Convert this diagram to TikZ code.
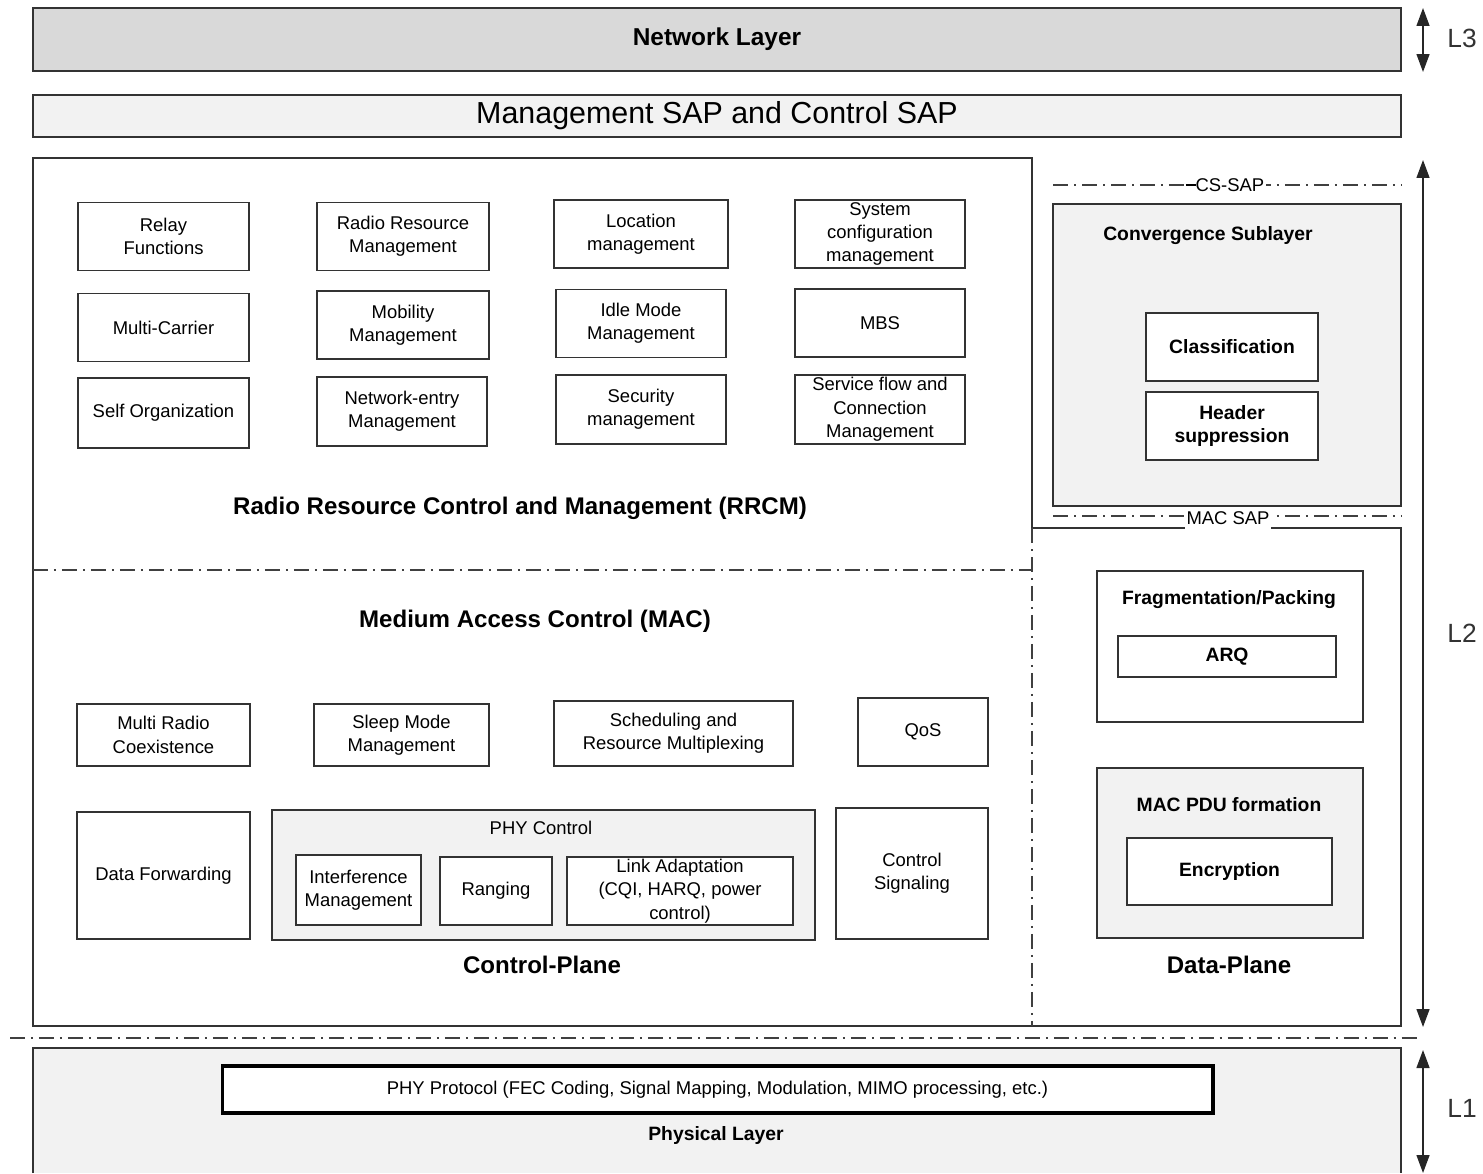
\documentclass[tikz,border=0pt]{standalone}
\usepackage{fontspec}
\setmainfont{Liberation Sans}
\usetikzlibrary{arrows.meta}

\definecolor{netfill}{HTML}{D9D9D9}
\definecolor{panefill}{HTML}{F2F2F2}
\newcommand{\boxfont}{\fontsize{10.5}{13.3}\selectfont}
\newcommand{\boldfont}{\bfseries\fontsize{11}{13}\selectfont}

\tikzset{
  blk/.style={draw=black!80, line width=0.8pt, fill=white, align=center, inner sep=0pt, font=\boxfont},
  gbox/.style={blk, fill=panefill},
  bblk/.style={blk, font=\boldfont},
  ttl/.style={font=\bfseries\fontsize{13.7}{15}\selectfont},
  sttl/.style={font=\boldfont, align=center},
  dashdot/.style={draw=black!75, line width=0.7pt, dash pattern=on 0.3cm off 0.12cm on 0.04cm off 0.12cm},
  saplbl/.style={fill=white, font=\boxfont, inner xsep=1pt, inner ysep=0pt, minimum height=0.46cm},
  lvl/.style={draw=black!85, line width=0.8pt, >={Triangle[length=0.36cm,width=0.26cm]}, <->},
  lvllbl/.style={font=\fontsize{15}{17}\selectfont, text=black!80}
}

\begin{document}
\begin{tikzpicture}[x=0.02cm, y=-0.02cm]
\useasboundingbox (0,0) rectangle (1483,1173);

%% top layers
\node[blk, fill=netfill, minimum width=27.36cm, minimum height=1.26cm, font=\bfseries\fontsize{13.9}{15}\selectfont] (net) at (717,39.5) {Network Layer};
\node[gbox, minimum width=27.36cm, minimum height=0.84cm, font=\fontsize{17.3}{19}\selectfont] (sap) at (717,116) {Management SAP and Control SAP};

%% L2 outline
\draw[draw=black!80, line width=0.8pt] (33,158) -- (1032,158) -- (1032,528) -- (1401,528) -- (1401,1026) -- (33,1026) -- cycle;
\draw[dashdot] (33,570) -- (1032,570);
\draw[dashdot] (1032,528) -- (1032,1026);

%% RRCM
\node[blk, minimum width=3.42cm, minimum height=1.36cm] (relay) at (163.5,236.5) {Relay\\Functions};
\node[blk, minimum width=3.44cm, minimum height=1.36cm] (rrm) at (403,236.5) {Radio Resource\\Management};
\node[blk, minimum width=3.48cm, minimum height=1.36cm] (loc) at (641,234) {Location\\management};
\node[blk, minimum width=3.40cm, minimum height=1.36cm] (syscfg) at (880,234) {System\\configuration\\management};

\node[blk, minimum width=3.42cm, minimum height=1.36cm] (mcarrier) at (163.5,327.5) {Multi-Carrier};
\node[blk, minimum width=3.44cm, minimum height=1.36cm] (mobility) at (403,325) {Mobility\\Management};
\node[blk, minimum width=3.40cm, minimum height=1.36cm] (idle) at (641,323.5) {Idle Mode\\Management};
\node[blk, minimum width=3.40cm, minimum height=1.36cm] (mbs) at (880,323) {MBS};

\node[blk, minimum width=3.42cm, minimum height=1.40cm] (selforg) at (163.5,413) {Self Organization};
\node[blk, minimum width=3.40cm, minimum height=1.38cm] (netentry) at (402,411.5) {Network-entry\\Management};
\node[blk, minimum width=3.40cm, minimum height=1.38cm] (security) at (641,409.5) {Security\\management};
\node[blk, minimum width=3.40cm, minimum height=1.38cm] (sfcm) at (880,409.5) {Service flow and\\Connection\\Management};

\node[ttl] (rrcm) at (520,508) {Radio Resource Control and Management (RRCM)};
\node[ttl] (mac) at (535,621) {Medium Access Control (MAC)};

%% MAC control plane
\node[blk, minimum width=3.46cm, minimum height=1.24cm] (mrc) at (163.5,735) {Multi Radio\\Coexistence};
\node[blk, minimum width=3.50cm, minimum height=1.24cm] (sleep) at (401.5,735) {Sleep Mode\\Management};
\node[blk, minimum width=4.78cm, minimum height=1.30cm] (sched) at (673.5,733.5) {Scheduling and\\Resource Multiplexing};
\node[blk, minimum width=2.60cm, minimum height=1.36cm] (qos) at (923,732) {QoS};

\node[blk, minimum width=3.46cm, minimum height=2.54cm] (datafwd) at (163.5,875.5) {Data Forwarding};
\node[gbox, minimum width=10.86cm, minimum height=2.60cm] (phyctrl) at (543.5,875) {};
\node (phyctrlt) at (541,828) [font=\boxfont] {PHY Control};
\node[blk, minimum width=2.50cm, minimum height=1.40cm] (interf) at (358.5,890) {Interference\\Management};
\node[blk, minimum width=2.24cm, minimum height=1.36cm] (ranging) at (496,891) {Ranging};
\node[blk, minimum width=4.52cm, minimum height=1.36cm] (linkad) at (680,891) {Link Adaptation\\(CQI, HARQ, power\\control)};
\node[blk, minimum width=3.04cm, minimum height=2.62cm] (ctrlsig) at (912,873.5) {Control\\Signaling};
\node[ttl] (cplane) at (542,965) {Control-Plane};

%% convergence sublayer
\draw[dashdot] (1053,185) -- (1401,185);
\node[saplbl] (cssap) at (1225,185) {\rule[0.6ex]{1ex}{0.7pt}CS-SAP};
\node[gbox, minimum width=6.96cm, minimum height=6.04cm] (conv) at (1227,355) {};
\node[sttl] (convt) at (1208,236) {Convergence Sublayer};
\node[bblk, minimum width=3.44cm, minimum height=1.36cm] (classif) at (1232,347) {Classification};
\node[bblk, minimum width=3.44cm, minimum height=1.36cm] (hdr) at (1232,426) {Header\\suppression};
\draw[dashdot] (1053,516) -- (1401,516);
\node[saplbl] (macsap) at (1228,518.5) {MAC SAP};

%% data plane
\node[blk, minimum width=5.32cm, minimum height=3.02cm] (frag) at (1230,646.5) {};
\node[sttl] (fragt) at (1229,600) {Fragmentation/Packing};
\node[bblk, minimum width=4.36cm, minimum height=0.82cm] (arq) at (1227,656.5) {ARQ};
\node[gbox, minimum width=5.32cm, minimum height=3.40cm] (pdu) at (1230,853) {};
\node[sttl] (pdut) at (1229,805) {MAC PDU formation};
\node[bblk, minimum width=4.10cm, minimum height=1.34cm] (encr) at (1229.5,871.5) {Encryption};
\node[ttl] (dplane) at (1229,965) {Data-Plane};

%% physical layer
\draw[dashdot] (10,1038) -- (1420,1038);
\fill[panefill] (33,1048) rectangle (1401,1173);
\draw[draw=black!80, line width=0.8pt] (33,1173) -- (33,1048) -- (1401,1048) -- (1401,1173);
\node[blk, draw=black, line width=1.8pt, minimum width=19.82cm, minimum height=0.94cm] (phyproto) at (717.5,1089.5) {PHY Protocol (FEC Coding, Signal Mapping, Modulation, MIMO processing, etc.)};
\node[sttl] (physt) at (716,1135) {Physical Layer};

%% layer arrows
\coordinate (l3top) at (1423,8);
\coordinate (l3bot) at (1423,72);
\coordinate (l2top) at (1423,160);
\coordinate (l2bot) at (1423,1027);
\coordinate (l1top) at (1423,1050);
\coordinate (l1bot) at (1423,1173);
\draw[lvl] (l3top) -- (l3bot);
\draw[lvl] (l2top) -- (l2bot);
\draw[lvl] (l1top) -- (l1bot);
\node[lvllbl] (l3) at (1462,38) {L3};
\node[lvllbl] (l2) at (1462,633) {L2};
\node[lvllbl] (l1) at (1462,1108) {L1};

\end{tikzpicture}
\end{document}
